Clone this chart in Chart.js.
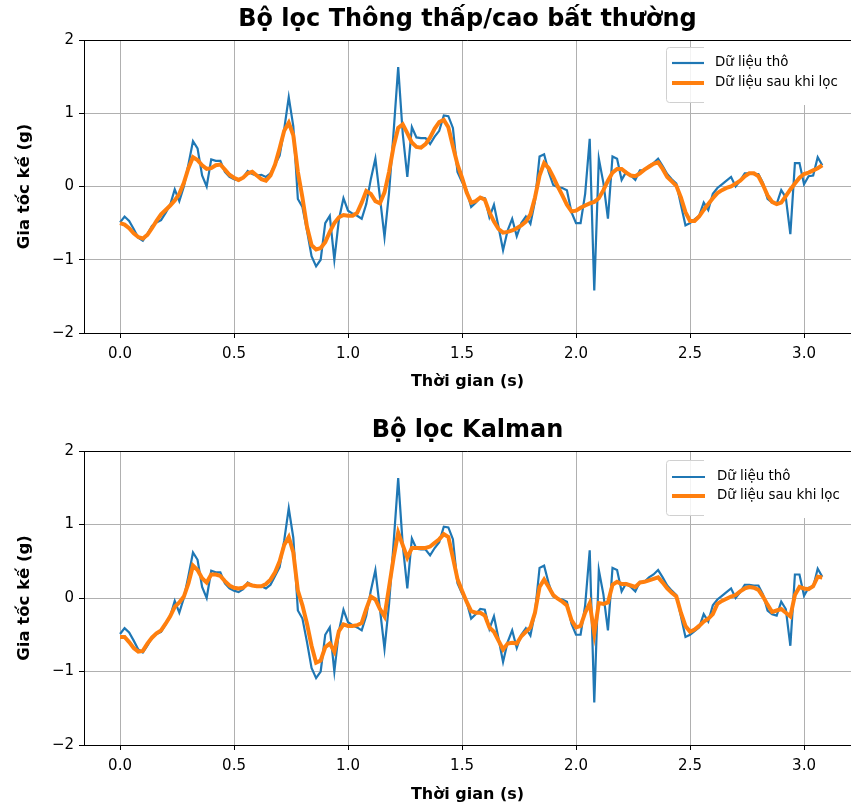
<!DOCTYPE html>
<html>
<head>
<meta charset="utf-8">
<script src="https://cdn.jsdelivr.net/npm/chart.js@4.4.1/dist/chart.umd.min.js"></script>
<style>
  html, body { margin: 0; padding: 0; background: #ffffff; overflow: hidden; }
  #c1 { position: absolute; left: 0; top: 0; }
  #c2 { position: absolute; left: 0; top: 411px; }
</style>
</head>
<body>
<canvas id="c1" width="851" height="405"></canvas>
<canvas id="c2" width="851" height="396"></canvas>
<script>
// ---------------- DATA ----------------
const titleTop = "Bộ lọc Thông thấp/cao bất thường";
const titleBottom = "Bộ lọc Kalman";
const xAxisLabel = "Thời gian (s)";
const yAxisLabel = "Gia tốc kế (g)";
const rawLabel = "Dữ liệu thô";
const filteredLabel = "Dữ liệu sau khi lọc";

const xTickValues = [0.0, 0.5, 1.0, 1.5, 2.0, 2.5, 3.0];
const yTickValues = [-2, -1, 0, 1, 2];

const timeSeconds = [
  0.00,0.02,0.04,0.06,0.08,0.10,0.12,0.14,0.16,0.18,
  0.20,0.22,0.24,0.26,0.28,0.30,0.32,0.34,0.36,0.38,
  0.40,0.42,0.44,0.46,0.48,0.50,0.52,0.54,0.56,0.58,
  0.60,0.62,0.64,0.66,0.68,0.70,0.72,0.74,0.76,0.78,
  0.80,0.82,0.84,0.86,0.88,0.90,0.92,0.94,0.96,0.98,
  1.00,1.02,1.04,1.06,1.08,1.10,1.12,1.14,1.16,1.18,
  1.20,1.22,1.24,1.26,1.28,1.30,1.32,1.34,1.36,1.38,
  1.40,1.42,1.44,1.46,1.48,1.50,1.52,1.54,1.56,1.58,
  1.60,1.62,1.64,1.66,1.68,1.70,1.72,1.74,1.76,1.78,
  1.80,1.82,1.84,1.86,1.88,1.90,1.92,1.94,1.96,1.98,
  2.00,2.02,2.04,2.06,2.08,2.10,2.12,2.14,2.16,2.18,
  2.20,2.22,2.24,2.26,2.28,2.30,2.32,2.34,2.36,2.38,
  2.40,2.42,2.44,2.46,2.48,2.50,2.52,2.54,2.56,2.58,
  2.60,2.62,2.64,2.66,2.68,2.70,2.72,2.74,2.76,2.78,
  2.80,2.82,2.84,2.86,2.88,2.90,2.92,2.94,2.96,2.98,
  3.00,3.02,3.04,3.06,3.08
];

const rawAccel = [
  -0.49,-0.41,-0.47,-0.58,-0.70,-0.74,-0.65,-0.54,-0.49,-0.46,
  -0.36,-0.25,-0.04,-0.20,0.00,0.30,0.62,0.52,0.15,0.00,
  0.37,0.35,0.35,0.20,0.13,0.10,0.08,0.12,0.21,0.17,
  0.15,0.16,0.13,0.18,0.30,0.42,0.78,1.22,0.82,-0.17,
  -0.28,-0.60,-0.95,-1.09,-1.00,-0.50,-0.40,-1.00,-0.45,-0.16,
  -0.33,-0.37,-0.40,-0.44,-0.24,0.10,0.38,-0.15,-0.69,-0.08,
  0.75,1.63,0.72,0.13,0.81,0.67,0.66,0.66,0.58,0.68,
  0.76,0.97,0.96,0.80,0.20,0.06,-0.05,-0.28,-0.22,-0.15,
  -0.16,-0.42,-0.25,-0.55,-0.87,-0.60,-0.44,-0.68,-0.50,-0.41,
  -0.51,-0.20,0.41,0.44,0.20,0.02,-0.01,-0.02,-0.05,-0.35,
  -0.50,-0.50,-0.10,0.65,-1.42,0.38,0.05,-0.44,0.41,0.38,
  0.09,0.20,0.15,0.09,0.22,0.22,0.28,0.32,0.38,0.28,
  0.17,0.10,0.04,-0.25,-0.53,-0.50,-0.45,-0.40,-0.22,-0.32,
  -0.10,-0.02,0.03,0.08,0.13,0.00,0.08,0.18,0.18,0.17,
  0.17,0.05,-0.17,-0.22,-0.24,-0.05,-0.15,-0.65,0.32,0.32,
  0.03,0.14,0.15,0.40,0.29
];

const lowHighFiltered = [
  -0.50,-0.52,-0.57,-0.64,-0.69,-0.71,-0.66,-0.57,-0.47,-0.38,
  -0.32,-0.26,-0.19,-0.10,0.05,0.25,0.40,0.36,0.29,0.24,
  0.25,0.29,0.30,0.23,0.16,0.12,0.09,0.12,0.18,0.20,
  0.15,0.10,0.08,0.15,0.30,0.52,0.76,0.87,0.70,0.20,
  -0.15,-0.55,-0.80,-0.86,-0.84,-0.76,-0.62,-0.50,-0.42,-0.39,
  -0.40,-0.40,-0.36,-0.22,-0.06,-0.10,-0.20,-0.23,-0.08,0.20,
  0.55,0.80,0.85,0.73,0.60,0.54,0.53,0.58,0.67,0.79,
  0.88,0.91,0.81,0.55,0.30,0.12,-0.08,-0.22,-0.20,-0.15,
  -0.18,-0.35,-0.48,-0.58,-0.63,-0.62,-0.60,-0.57,-0.53,-0.48,
  -0.38,-0.15,0.15,0.32,0.25,0.13,0.00,-0.12,-0.25,-0.34,
  -0.33,-0.29,-0.26,-0.23,-0.21,-0.16,-0.05,0.08,0.19,0.24,
  0.24,0.19,0.15,0.14,0.18,0.23,0.27,0.31,0.33,0.24,
  0.13,0.07,0.01,-0.15,-0.35,-0.47,-0.47,-0.41,-0.32,-0.24,
  -0.16,-0.09,-0.05,-0.02,0.00,0.04,0.08,0.14,0.18,0.18,
  0.14,0.02,-0.12,-0.21,-0.24,-0.22,-0.13,-0.04,0.04,0.12,
  0.17,0.19,0.22,0.25,0.29
];

const kalmanFiltered = [
  -0.53,-0.53,-0.60,-0.68,-0.73,-0.72,-0.62,-0.54,-0.48,-0.44,
  -0.35,-0.25,-0.12,-0.06,0.02,0.20,0.44,0.38,0.27,0.21,
  0.32,0.32,0.30,0.23,0.17,0.14,0.13,0.14,0.19,0.17,
  0.16,0.16,0.19,0.25,0.35,0.50,0.72,0.83,0.62,0.10,
  -0.10,-0.35,-0.65,-0.88,-0.85,-0.67,-0.62,-0.73,-0.45,-0.36,
  -0.38,-0.38,-0.37,-0.34,-0.15,0.02,-0.02,-0.15,-0.25,0.15,
  0.55,0.89,0.72,0.55,0.68,0.68,0.68,0.68,0.70,0.75,
  0.80,0.87,0.83,0.55,0.26,0.10,-0.05,-0.18,-0.20,-0.20,
  -0.24,-0.40,-0.46,-0.58,-0.70,-0.62,-0.61,-0.62,-0.52,-0.46,
  -0.40,-0.20,0.15,0.25,0.15,0.04,-0.01,-0.05,-0.10,-0.30,
  -0.40,-0.38,-0.20,-0.07,-0.48,-0.07,-0.08,-0.06,0.18,0.22,
  0.19,0.19,0.17,0.15,0.21,0.22,0.24,0.26,0.28,0.21,
  0.13,0.07,0.02,-0.20,-0.38,-0.46,-0.43,-0.38,-0.32,-0.28,
  -0.22,-0.08,-0.04,-0.01,0.02,0.04,0.09,0.13,0.15,0.14,
  0.11,0.02,-0.09,-0.19,-0.17,-0.15,-0.20,-0.25,0.04,0.15,
  0.13,0.12,0.16,0.29,0.28
];

// ---------------- STYLE / LAYOUT ----------------
const FONT = "'DejaVu Sans', 'Liberation Sans', sans-serif";
const BLUE = '#1f77b4';
const ORANGE = '#ff7f0e';
const GRID = '#b0b0b0';

function pts(vals) { return timeSeconds.map((t, i) => ({ x: t, y: vals[i] })); }

const spineAndLegend = {
  id: 'spineAndLegend',
  afterDatasetsDraw(chart, args, o) {
    const { ctx, chartArea: a } = chart;
    ctx.save();
    // top spine
    ctx.strokeStyle = '#000';
    ctx.lineWidth = 1;
    ctx.beginPath();
    ctx.moveTo(a.left, Math.round(a.top) + 0.5);
    ctx.lineTo(a.right, Math.round(a.top) + 0.5);
    ctx.stroke();

    // legend frame
    const fx = o.frameX + 0.5, fy = Math.round(a.top) + o.frameTop + 0.5, fw = 220, fh = o.frameHeight, r = 3;
    ctx.beginPath();
    ctx.moveTo(fx + r, fy);
    ctx.lineTo(fx + fw - r, fy);
    ctx.quadraticCurveTo(fx + fw, fy, fx + fw, fy + r);
    ctx.lineTo(fx + fw, fy + fh - r);
    ctx.quadraticCurveTo(fx + fw, fy + fh, fx + fw - r, fy + fh);
    ctx.lineTo(fx + r, fy + fh);
    ctx.quadraticCurveTo(fx, fy + fh, fx, fy + fh - r);
    ctx.lineTo(fx, fy + r);
    ctx.quadraticCurveTo(fx, fy, fx + r, fy);
    ctx.closePath();
    ctx.fillStyle = 'rgba(255,255,255,0.85)';
    ctx.fill();
    ctx.strokeStyle = '#d0d0d0';
    ctx.stroke();
    // white cover (as in the reference image)
    ctx.fillStyle = '#ffffff';
    ctx.fillRect(o.coverX, Math.round(a.top) + 1, chart.width - o.coverX, o.frameTop + fh + 2);

    // legend entries
    ctx.font = o.fontSize + 'px ' + FONT;
    ctx.textBaseline = 'middle';
    ctx.textAlign = 'left';
    chart.data.datasets.forEach((ds, i) => {
      const y = Math.round(a.top) + o.rows[i];
      ctx.strokeStyle = ds.borderColor;
      ctx.lineWidth = ds.borderWidth;
      ctx.beginPath();
      ctx.moveTo(o.lineX0, y);
      ctx.lineTo(o.lineX1, y);
      ctx.stroke();
      ctx.fillStyle = '#000';
      ctx.fillText(ds.label, o.textX, y);
    });
    ctx.restore();
  }
};

function makeChart(canvasId, title, filtered, xAxisHeight, xTitlePad, legendOpts) {
  return new Chart(document.getElementById(canvasId), {
    type: 'line',
    data: {
      datasets: [
        { label: rawLabel, data: pts(rawAccel), borderColor: BLUE, backgroundColor: BLUE,
          borderWidth: 2.2, pointRadius: 0, tension: 0, order: 2 },
        { label: filteredLabel, data: pts(filtered), borderColor: ORANGE, backgroundColor: ORANGE,
          borderWidth: 4, pointRadius: 0, tension: 0, order: 1 }
      ]
    },
    options: {
      responsive: false,
      animation: false,
      devicePixelRatio: 1,
      layout: { padding: 0 },
      plugins: {
        legend: { display: false },
        tooltip: { enabled: false },
        title: {
          display: true, text: title, fullSize: false, color: '#000',
          font: { family: FONT, size: 24, weight: 'bold', lineHeight: 1.2 },
          padding: { top: 5.5, bottom: 5.7 }
        },
        spineAndLegend: legendOpts
      },
      scales: {
        x: {
          type: 'linear', min: -0.158, max: 3.206,
          afterBuildTicks: (s) => { s.ticks = xTickValues.map(v => ({ value: v })); },
          afterFit: (s) => { s.height = xAxisHeight; },
          ticks: { color: '#000', font: { family: FONT, size: 15 }, padding: 7, maxRotation: 0, autoSkip: false,
                   callback: (v) => Number(v).toFixed(1) },
          grid: { color: GRID, lineWidth: 1, drawTicks: true, tickLength: 5, tickColor: '#000', tickWidth: 1 },
          border: { display: true, color: '#000', width: 1 },
          title: { display: true, text: xAxisLabel, color: '#000',
                   font: { family: FONT, size: 16, weight: 'bold', lineHeight: 1.2 },
                   padding: { top: 0, bottom: xTitlePad } }
        },
        y: {
          type: 'linear', min: -2, max: 2,
          afterBuildTicks: (s) => { s.ticks = yTickValues.map(v => ({ value: v })); },
          afterFit: (s) => { s.width = 84; },
          ticks: { color: '#000', font: { family: FONT, size: 15 }, padding: 5,
                   callback: (v) => String(v).replace('-', '\u2212') },
          grid: { color: GRID, lineWidth: 1, drawTicks: true, tickLength: 5, tickColor: '#000', tickWidth: 1 },
          border: { display: true, color: '#000', width: 1 },
          title: { display: true, text: yAxisLabel, color: '#000',
                   font: { family: FONT, size: 16.5, weight: 'bold', lineHeight: 1.2 },
                   padding: { top: 15, bottom: 0 } }
        }
      }
    },
    plugins: [spineAndLegend]
  });
}

makeChart('c1', titleTop, lowHighFiltered, 72, 13.4,
  { frameX: 666, frameTop: 7, frameHeight: 55, coverX: 704, rows: [23, 43],
    lineX0: 672, lineX1: 704, textX: 715, fontSize: 13.4 });
makeChart('c2', titleBottom, kalmanFiltered, 62, 2.4,
  { frameX: 666, frameTop: 9, frameHeight: 55, coverX: 704, rows: [26, 45],
    lineX0: 672, lineX1: 705, textX: 717, fontSize: 13.4 });
</script>
</body>
</html>
